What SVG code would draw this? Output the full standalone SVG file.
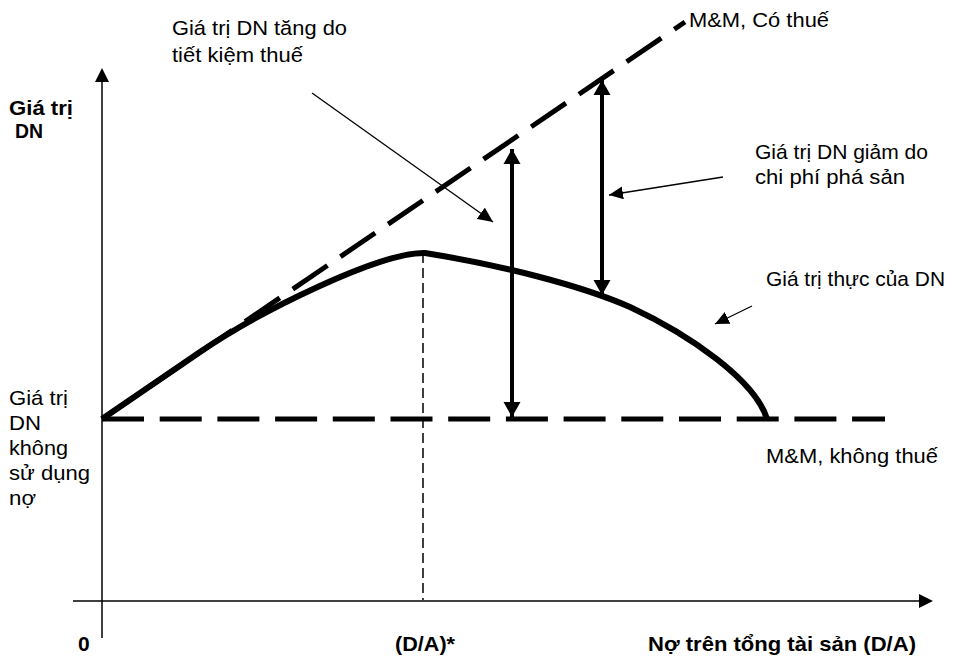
<svg xmlns="http://www.w3.org/2000/svg" width="955" height="659" viewBox="0 0 955 659">
<style>
text{font-family:"Liberation Sans",Arial,sans-serif;font-size:21px;fill:#000}
.b{font-weight:bold}
.thick{fill:none;stroke:#000;stroke-width:6;stroke-linecap:butt;stroke-linejoin:round}
.dash{fill:none;stroke:#000;stroke-width:5;stroke-dasharray:42 15.7}
.axis{fill:none;stroke:#000;stroke-width:1.5}
.thin{fill:none;stroke:#000;stroke-width:1.3}
.dbl{fill:none;stroke:#000;stroke-width:4}
.vd{fill:none;stroke:#000;stroke-width:1.5;stroke-dasharray:10 5}
</style>
<defs>
<marker id="ah" markerUnits="userSpaceOnUse" markerWidth="16" markerHeight="14" refX="15" refY="7" orient="auto"><path d="M0,0 L15,7 L0,14 Z" fill="#000"/></marker>
<marker id="bh" markerUnits="userSpaceOnUse" markerWidth="17" markerHeight="18" refX="15" refY="8.5" orient="auto"><path d="M0,0 L15,8.5 L0,17 Z" fill="#000"/></marker>
<marker id="bs" markerUnits="userSpaceOnUse" markerWidth="17" markerHeight="18" refX="0" refY="8.5" orient="auto"><path d="M15,0 L0,8.5 L15,17 Z" fill="#000"/></marker>
<marker id="sh" markerUnits="userSpaceOnUse" markerWidth="15" markerHeight="13" refX="14" refY="6.5" orient="auto"><path d="M0,0 L14,6.5 L0,13 Z" fill="#000"/></marker>
</defs>
<g id="connectors">
<line class="axis" x1="102" y1="82" x2="102" y2="638"/>
<polygon points="102,68 95,82 109,82" fill="#000"/>
<line class="axis" x1="73" y1="601" x2="919" y2="601"/>
<polygon points="933,601 919,594 919,608" fill="#000"/>
<line class="vd" x1="423" y1="253" x2="423" y2="600"/>
<line class="dash" x1="102" y1="419" x2="885" y2="419"/>
<line class="dash" x1="102" y1="419" x2="685" y2="22"/>
<path class="thick" d="M102,419 L200,352 C260,311 380,252 425,253 C500,265 580,285 630,307 C690,335 755,380 767,419"/>
<line class="dbl" x1="512" y1="149" x2="512" y2="417" marker-start="url(#bs)" marker-end="url(#bh)"/>
<line class="dbl" x1="602" y1="80" x2="602" y2="295" marker-start="url(#bs)" marker-end="url(#bh)"/>
<line class="thin" x1="312" y1="93" x2="493" y2="222" marker-end="url(#ah)"/>
<line class="thin" x1="723" y1="177" x2="609" y2="195" stroke-width="1.5" marker-end="url(#sh)"/>
<line class="thin" x1="752" y1="306" x2="715" y2="324" stroke-width="1.5" marker-end="url(#sh)"/>
</g>
<g id="label-tax-saving">
<text x="172" y="35" textLength="175" lengthAdjust="spacingAndGlyphs">Giá trị DN tăng do</text>
<text x="172" y="62" textLength="131" lengthAdjust="spacingAndGlyphs">tiết kiệm thuế</text>
</g>
<g id="label-mm-tax">
<text x="689" y="27" textLength="140" lengthAdjust="spacingAndGlyphs">M&amp;M, Có thuế</text>
</g>
<g id="label-bankruptcy">
<text x="755" y="159" textLength="173" lengthAdjust="spacingAndGlyphs">Giá trị DN giảm do</text>
<text x="755" y="184" textLength="150" lengthAdjust="spacingAndGlyphs">chi phí phá sản</text>
</g>
<g id="label-real-value">
<text x="766" y="286" textLength="179" lengthAdjust="spacingAndGlyphs">Giá trị thực của DN</text>
</g>
<g id="label-mm-notax">
<text x="766" y="463" textLength="172" lengthAdjust="spacingAndGlyphs">M&amp;M, không thuế</text>
</g>
<g id="label-y-axis">
<text class="b" x="9" y="115" textLength="64" lengthAdjust="spacingAndGlyphs">Giá trị</text>
<text class="b" x="15" y="138" textLength="28" lengthAdjust="spacingAndGlyphs">DN</text>
</g>
<g id="label-unlevered">
<text x="9" y="405" textLength="59" lengthAdjust="spacingAndGlyphs">Giá trị</text>
<text x="9" y="430" textLength="32" lengthAdjust="spacingAndGlyphs">DN</text>
<text x="9" y="455" textLength="59" lengthAdjust="spacingAndGlyphs">không</text>
<text x="9" y="480" textLength="81" lengthAdjust="spacingAndGlyphs">sử dụng</text>
<text x="9" y="505" textLength="27" lengthAdjust="spacingAndGlyphs">nợ</text>
</g>
<g id="label-origin">
<text class="b" x="78" y="651">0</text>
</g>
<g id="label-optimal">
<text class="b" x="395" y="651" textLength="60" lengthAdjust="spacingAndGlyphs">(D/A)*</text>
</g>
<g id="label-x-axis">
<text class="b" x="648" y="651" textLength="268" lengthAdjust="spacingAndGlyphs">Nợ trên tổng tài sản (D/A)</text>
</g>
</svg>
